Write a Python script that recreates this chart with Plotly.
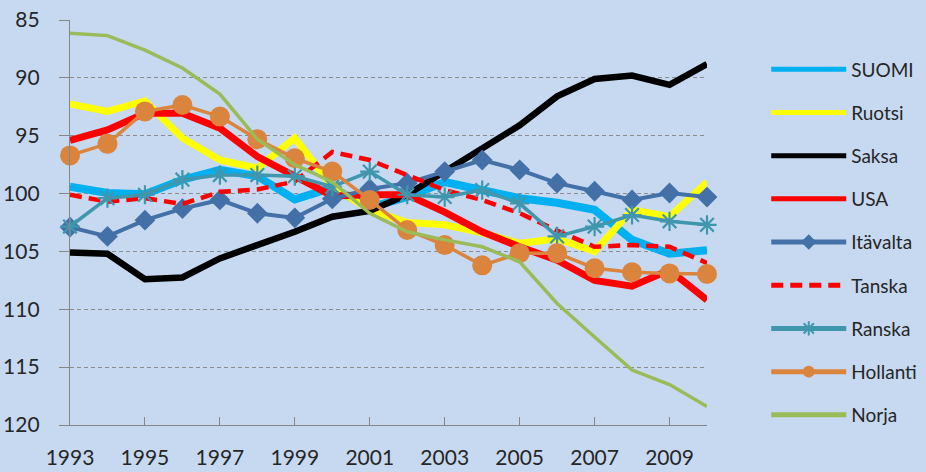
import plotly.graph_objects as go

years = list(range(1993, 2011))

suomi = [99.4, 99.95, 100.05, 98.8, 97.95, 98.5, 100.5, 99.5, 101.2, 100.3, 99.0, 99.7, 100.4, 100.8, 101.4, 104.0, 105.2, 104.9]
ruotsi = [92.25, 92.9, 92.0, 95.2, 97.1, 97.8, 95.2, 99.4, 101.4, 102.5, 102.7, 103.4, 104.3, 103.9, 105.0, 101.4, 102.0, 99.0]
saksa = [105.1, 105.2, 107.4, 107.25, 105.6, 104.45, 103.3, 102.0, 101.5, 100.1, 98.1, 96.1, 94.1, 91.6, 90.1, 89.8, 90.6, 88.8]
usa = [95.4, 94.5, 93.05, 93.05, 94.35, 96.8, 98.5, 100.2, 100.1, 100.1, 101.6, 103.3, 104.6, 105.75, 107.5, 108.0, 106.6, 109.2]
itavalta = [102.9, 103.7, 102.3, 101.3, 100.55, 101.7, 102.1, 100.45, 99.6, 99.1, 98.1, 97.1, 97.95, 99.1, 99.8, 100.55, 99.95, 100.3]
tanska = [100.1, 100.7, 100.4, 100.9, 99.85, 99.65, 98.95, 96.4, 97.1, 98.4, 99.7, 100.55, 101.7, 103.2, 104.6, 104.45, 104.6, 106.0]
ranska = [102.85, 100.4, 100.1, 98.8, 98.4, 98.4, 98.5, 99.4, 98.1, 100.1, 100.3, 99.7, 100.85, 103.7, 102.85, 101.85, 102.4, 102.7]
hollanti = [96.7, 95.7, 92.9, 92.35, 93.35, 95.3, 96.95, 98.1, 100.55, 103.15, 104.45, 106.2, 105.15, 105.15, 106.45, 106.8, 106.9, 106.95]
norja = [86.15, 86.35, 87.6, 89.15, 91.4, 95.3, 97.5, 99.0, 101.7, 103.3, 104.0, 104.6, 105.9, 109.5, 112.4, 115.25, 116.5, 118.4]

y_ticks = [85, 90, 95, 100, 105, 110, 115, 120]
x_ticks = list(range(1993, 2011, 2))

bg = "#c6d9f1"
txt = "#262626"
axis_col = "#868686"

fig = go.Figure()

def add(name, vals, color, width, dash="solid", symbol=None, msize=None):
    kw = dict(mode="lines")
    if symbol:
        kw["mode"] = "lines+markers"
        if symbol == "asterisk-open":
            kw["marker"] = dict(symbol=symbol, size=msize, color=color,
                                line=dict(color=color, width=2.2))
        else:
            kw["marker"] = dict(symbol=symbol, size=msize, color=color,
                                line=dict(width=0))
    fig.add_trace(go.Scatter(x=years, y=vals, name=name, legendgroup=name,
                             line=dict(color=color, width=width, dash=dash),
                             cliponaxis=False, **kw))

add("SUOMI", suomi, "#00b0f0", 8)
add("Ruotsi", ruotsi, "#ffff00", 7)
add("Saksa", saksa, "#000000", 6.5)
add("USA", usa, "#ff0000", 7)
add("Itävalta", itavalta, "#4470a8", 4, symbol="diamond", msize=16)
add("Tanska", tanska, "#ff0000", 4.5, dash="12px,7px")
add("Ranska", ranska, "#3f96ad", 3.5, symbol="asterisk-open", msize=16)
add("Hollanti", hollanti, "#db843d", 3.5, symbol="circle", msize=20)
add("Norja", norja, "#9bbb59", 3.5)

fig.update_layout(
    width=926, height=472,
    margin=dict(l=70, r=219, t=20, b=47, autoexpand=False),
    paper_bgcolor=bg, plot_bgcolor=bg,
    font=dict(family="Lato", color=txt, size=21),
    xaxis=dict(range=[1993, 2010], tickvals=x_ticks, ticks="inside",
               ticklen=8, tickcolor=axis_col, showgrid=False,
               showline=True, linecolor=axis_col, linewidth=1.3,
               zeroline=False, ticklabelstandoff=14,
               tickfont=dict(size=21, color=txt)),
    yaxis=dict(range=[120, 85], tickvals=y_ticks, ticks="outside",
               ticklen=10, tickcolor=axis_col, showgrid=True,
               gridcolor="#8c8c8c", griddash="4px,3px", gridwidth=1,
               showline=True, linecolor=axis_col, linewidth=1.3,
               zeroline=False, ticklabelstandoff=15,
               tickfont=dict(size=21, color=txt)),
    legend=dict(x=1.093, xanchor="left", y=0.925, yanchor="top",
                bgcolor="rgba(0,0,0,0)", font=dict(size=19, color=txt),
                tracegroupgap=15.5, itemwidth=75, itemsizing="constant"),
)

# the page body has a default 8px margin; remove it so the chart fills the window
fig.write_html("out.html", config={"displayModeBar": False},
               post_script="document.body.style.margin='0px';")
